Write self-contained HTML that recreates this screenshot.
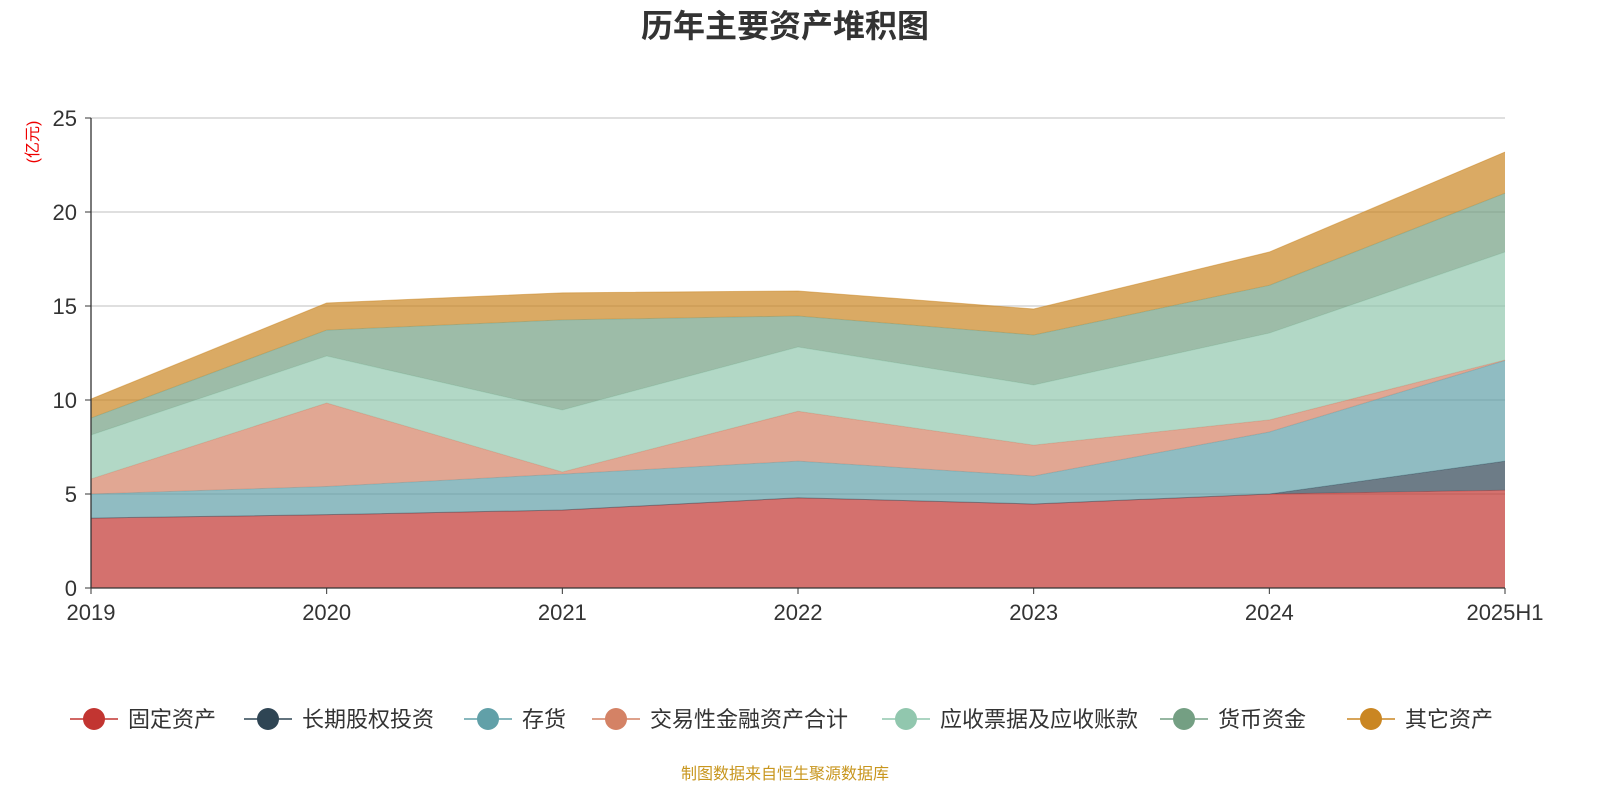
<!DOCTYPE html>
<html><head><meta charset="utf-8">
<style>
body{margin:0;background:#fff;font-family:"Liberation Sans","Noto Sans CJK SC",sans-serif;}
svg text{font-family:"Liberation Sans","Noto Sans CJK SC",sans-serif;}
</style></head>
<body>
<svg id="chart" width="1600" height="800" xmlns="http://www.w3.org/2000/svg">
<text x="785" y="37" text-anchor="middle" font-size="32" font-weight="bold" fill="#333">历年主要资产堆积图</text>
<text x="0" y="0" transform="translate(38,142) rotate(-90)" text-anchor="middle" font-size="16" fill="#e00">(亿元)</text>
<g id="grid"></g><g id="areas"></g><g id="axes"></g><g id="legend"></g>
<text x="785" y="779" text-anchor="middle" font-size="16" fill="#c8961e">制图数据来自恒生聚源数据库</text>
</svg>
<script>
const categories=["2019","2020","2021","2022","2023","2024","2025H1"];
const seriesNames=["固定资产","长期股权投资","存货","交易性金融资产合计","应收票据及应收账款","货币资金","其它资产"];
const fixedAssets=[3.72,3.9,4.15,4.8,4.47,5.0,5.2];
const longTermEquity=[0,0,0,0,0,0,1.55];
const inventory=[1.28,1.5,1.91,1.95,1.49,3.3,5.35];
const tradingFinAssets=[0.8,4.44,0.11,2.65,1.64,0.64,0.03];
const receivables=[2.34,2.5,3.3,3.42,3.2,4.62,5.74];
const cashFunds=[0.9,1.38,4.79,1.65,2.66,2.54,3.13];
const otherAssets=[1.01,1.44,1.44,1.33,1.38,1.77,2.19];
const yTicks=[0,5,10,15,20,25];
const seriesData=[fixedAssets,longTermEquity,inventory,tradingFinAssets,receivables,cashFunds,otherAssets];
const colors=["#c23531","#2f4554","#61a0a8","#d48265","#91c7ae","#749f83","#ca8622"];
const X0=91,X1=1505,Y0=588,Y1=118,YMAX=25;
const xs=i=>X0+(X1-X0)*i/(categories.length-1);
const ys=v=>Y0-(Y0-Y1)*v/YMAX;
const NS="http://www.w3.org/2000/svg";
function mk(tag,attrs,parent){const e=document.createElementNS(NS,tag);for(const k in attrs)e.setAttribute(k,attrs[k]);parent.appendChild(e);return e;}
const grid=document.getElementById('grid'),axes=document.getElementById('axes'),areas=document.getElementById('areas'),legend=document.getElementById('legend');
yTicks.forEach(t=>{
 if(t>0){const l=mk('line',{x1:X0,x2:X1,y1:ys(t),y2:ys(t),stroke:'#ccc','stroke-width':1.3},grid);
 
 }
 const tk=mk('line',{x1:X0-6,x2:X0,y1:ys(t),y2:ys(t),stroke:'#333'},axes);
 
 
 const tx=mk('text',{x:X0-14,y:ys(t)+8,'text-anchor':'end','font-size':22,fill:'#333'},axes);
 tx.textContent=t;
 
 
});
let cum=categories.map(()=>0);
seriesData.forEach((arr,si)=>{
 const lower=cum.slice();cum=cum.map((c,i)=>c+arr[i]);
 let d='';
 cum.forEach((v,i)=>{d+=(i?'L':'M')+xs(i)+','+ys(v);});
 for(let i=lower.length-1;i>=0;i--)d+='L'+xs(i)+','+ys(lower[i]);
 const p=mk('path',{d:d+'Z',fill:colors[si],'fill-opacity':0.7,stroke:'none'},areas);
 
 
 let ld='';cum.forEach((v,i)=>{ld+=(i?'L':'M')+xs(i)+','+ys(v);});
 const ln=mk('path',{d:ld,fill:'none',stroke:colors[si],'stroke-opacity':0.5,'stroke-width':1},areas);
 
 
});
const ya=mk('line',{x1:X0,x2:X0,y1:Y1,y2:Y0,stroke:'#333','stroke-width':1.3},axes);


const xa=mk('line',{x1:X0,x2:X1,y1:Y0,y2:Y0,stroke:'#333','stroke-width':1.3},axes);


categories.forEach((c,i)=>{
 const tk=mk('line',{x1:xs(i),x2:xs(i),y1:Y0,y2:Y0+6,stroke:'#333'},axes);
 
 
 const tx=mk('text',{x:xs(i),y:620,'text-anchor':'middle','font-size':22,fill:'#333'},axes);
 tx.textContent=c;
 
 
});
const legX=[70,244,464,592,882,1160,1347];
seriesNames.forEach((n,i)=>{
 const g=mk('g',{},legend);
 
 
 mk('line',{x1:legX[i],x2:legX[i]+48,y1:719,y2:719,stroke:colors[i],'stroke-width':1.5},g);
 mk('circle',{cx:legX[i]+24,cy:719,r:11,fill:colors[i]},g);
 const t=mk('text',{x:legX[i]+58,y:727,'font-size':22,fill:'#333'},g);
 t.textContent=n;
});
</script>
</body></html>
